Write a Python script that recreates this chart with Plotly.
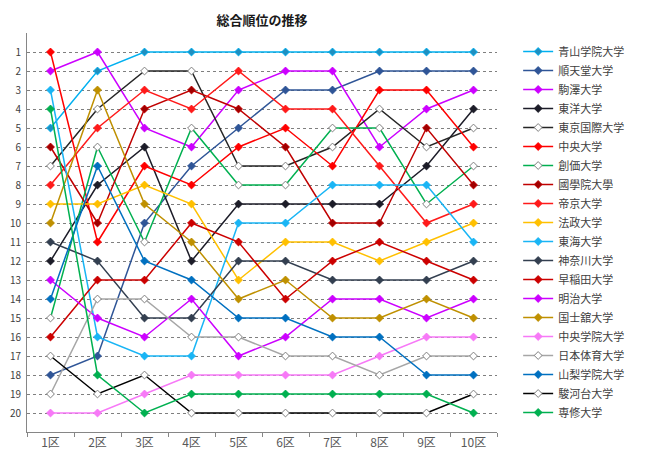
import plotly.graph_objects as go

# =============================================================================
# DATA
# =============================================================================

sections = ['1区', '2区', '3区', '4区', '5区', '6区', '7区', '8区', '9区', '10区']
rank_ticks = list(range(1, 21))

teams = ['青山学院大学', '順天堂大学', '駒澤大学', '東洋大学', '東京国際大学',
         '中央大学', '創価大学', '國學院大學', '帝京大学', '法政大学',
         '東海大学', '神奈川大学', '早稲田大学', '明治大学', '国士舘大学',
         '中央学院大学', '日本体育大学', '山梨学院大学', '駿河台大学', '専修大学']

aoyama    = [5, 2, 1, 1, 1, 1, 1, 1, 1, 1]
juntendo  = [18, 17, 10, 7, 5, 3, 3, 2, 2, 2]
komazawa  = [2, 1, 5, 6, 3, 2, 2, 6, 4, 3]
toyo      = [12, 8, 6, 12, 9, 9, 9, 9, 7, 4]
tokyokoku = [7, 4, 2, 2, 7, 7, 6, 4, 6, 5]
chuo      = [1, 11, 7, 8, 6, 5, 7, 3, 3, 6]
soka      = [15, 6, 11, 5, 8, 8, 5, 5, 9, 7]
kokugakuin = [6, 10, 4, 3, 4, 6, 10, 10, 5, 8]
teikyo    = [8, 5, 3, 4, 2, 4, 4, 7, 10, 9]
hosei     = [9, 9, 8, 9, 13, 11, 11, 12, 11, 10]
tokai     = [3, 16, 17, 17, 10, 10, 8, 8, 8, 11]
kanagawa  = [11, 12, 15, 15, 12, 12, 13, 13, 13, 12]
waseda    = [16, 13, 13, 10, 11, 14, 12, 11, 12, 13]
meiji     = [13, 15, 16, 14, 17, 16, 14, 14, 15, 14]
kokushikan = [10, 3, 9, 11, 14, 13, 15, 15, 14, 15]
chuogakuin = [20, 20, 19, 18, 18, 18, 18, 17, 16, 16]
nittai    = [19, 14, 14, 16, 16, 17, 17, 18, 17, 17]
yamanashi = [14, 7, 12, 13, 15, 15, 16, 16, 18, 18]
surugadai = [17, 19, 18, 20, 20, 20, 20, 20, 20, 19]
senshu    = [4, 18, 20, 19, 19, 19, 19, 19, 19, 20]

ranks = [aoyama, juntendo, komazawa, toyo, tokyokoku, chuo, soka, kokugakuin,
         teikyo, hosei, tokai, kanagawa, waseda, meiji, kokushikan,
         chuogakuin, nittai, yamanashi, surugadai, senshu]

# line colour, marker fill
styles = [
    ('#00b0f0', '#1f8fc0'), ('#2f5597', '#2f5597'), ('#cc00ff', '#cc00ff'),
    ('#1c1c28', '#1c1c28'), ('#262626', 'white'), ('#ff0000', '#ff0000'),
    ('#00b050', 'white'), ('#c00000', '#a00000'), ('#ff1a1a', '#ff1a1a'),
    ('#ffc000', '#ffc000'), ('#19b5f5', '#19b5f5'), ('#333f50', '#333f50'),
    ('#cc0000', '#cc0000'), ('#cc00ff', '#cc00ff'), ('#bf9000', '#bf9000'),
    ('#f779f7', '#f779f7'), ('#a6a6a6', 'white'), ('#0070c0', '#0070c0'),
    ('#000000', 'white'), ('#00b050', '#00b050'),
]

# =============================================================================
# FIGURE
# =============================================================================

fig = go.Figure()
x_pos = list(range(1, len(sections) + 1))

for name, r, (lc, mc) in zip(teams, ranks, styles):
    edge = '#7f7f7f' if mc == 'white' else lc
    fig.add_trace(go.Scatter(
        x=x_pos, y=r, name=name, mode='lines+markers',
        line=dict(color=lc, width=1.5),
        marker=dict(symbol='diamond', size=6, color=mc, line=dict(color=edge, width=1)),
    ))

# page body adds ~8px offset, so margins are shifted up/left to compensate
fig.update_layout(
    width=647, height=469,
    margin=dict(l=19, r=158, t=25, b=45, autoexpand=False),
    paper_bgcolor='white', plot_bgcolor='white',
    font=dict(family='Noto Sans CJK JP', color='#404040'),
    title=dict(text='<b>総合順位の推移</b>', x=0.5, xref='paper', y=0.974, yanchor='middle',
               font=dict(size=13, color='#1a1a1a'), xanchor='center'),
    xaxis=dict(range=[0.5, 10.5], tickvals=x_pos, ticktext=sections, showgrid=False,
               showline=True, linecolor='#868686', ticks='', zeroline=False,
               tickfont=dict(size=12, color='#595959'),
               minor=dict(tickvals=[i + 0.5 for i in range(11)], ticks='outside',
                          ticklen=4, tickcolor='#868686', showgrid=False)),
    yaxis=dict(range=[21, 0], tickvals=rank_ticks, showgrid=True, gridcolor='#7f7f7f',
               griddash='dot', gridwidth=1, showline=True, linecolor='#868686',
               zeroline=False, ticks='', ticklabelstandoff=3,
               tickfont=dict(size=10, color='#404040')),
    legend=dict(x=1.045, xanchor='left', y=0.99, yanchor='top', tracegroupgap=0,
                font=dict(size=11, color='#404040'), itemwidth=30,
                bgcolor='rgba(0,0,0,0)'),
)

fig.write_html("out.html")
